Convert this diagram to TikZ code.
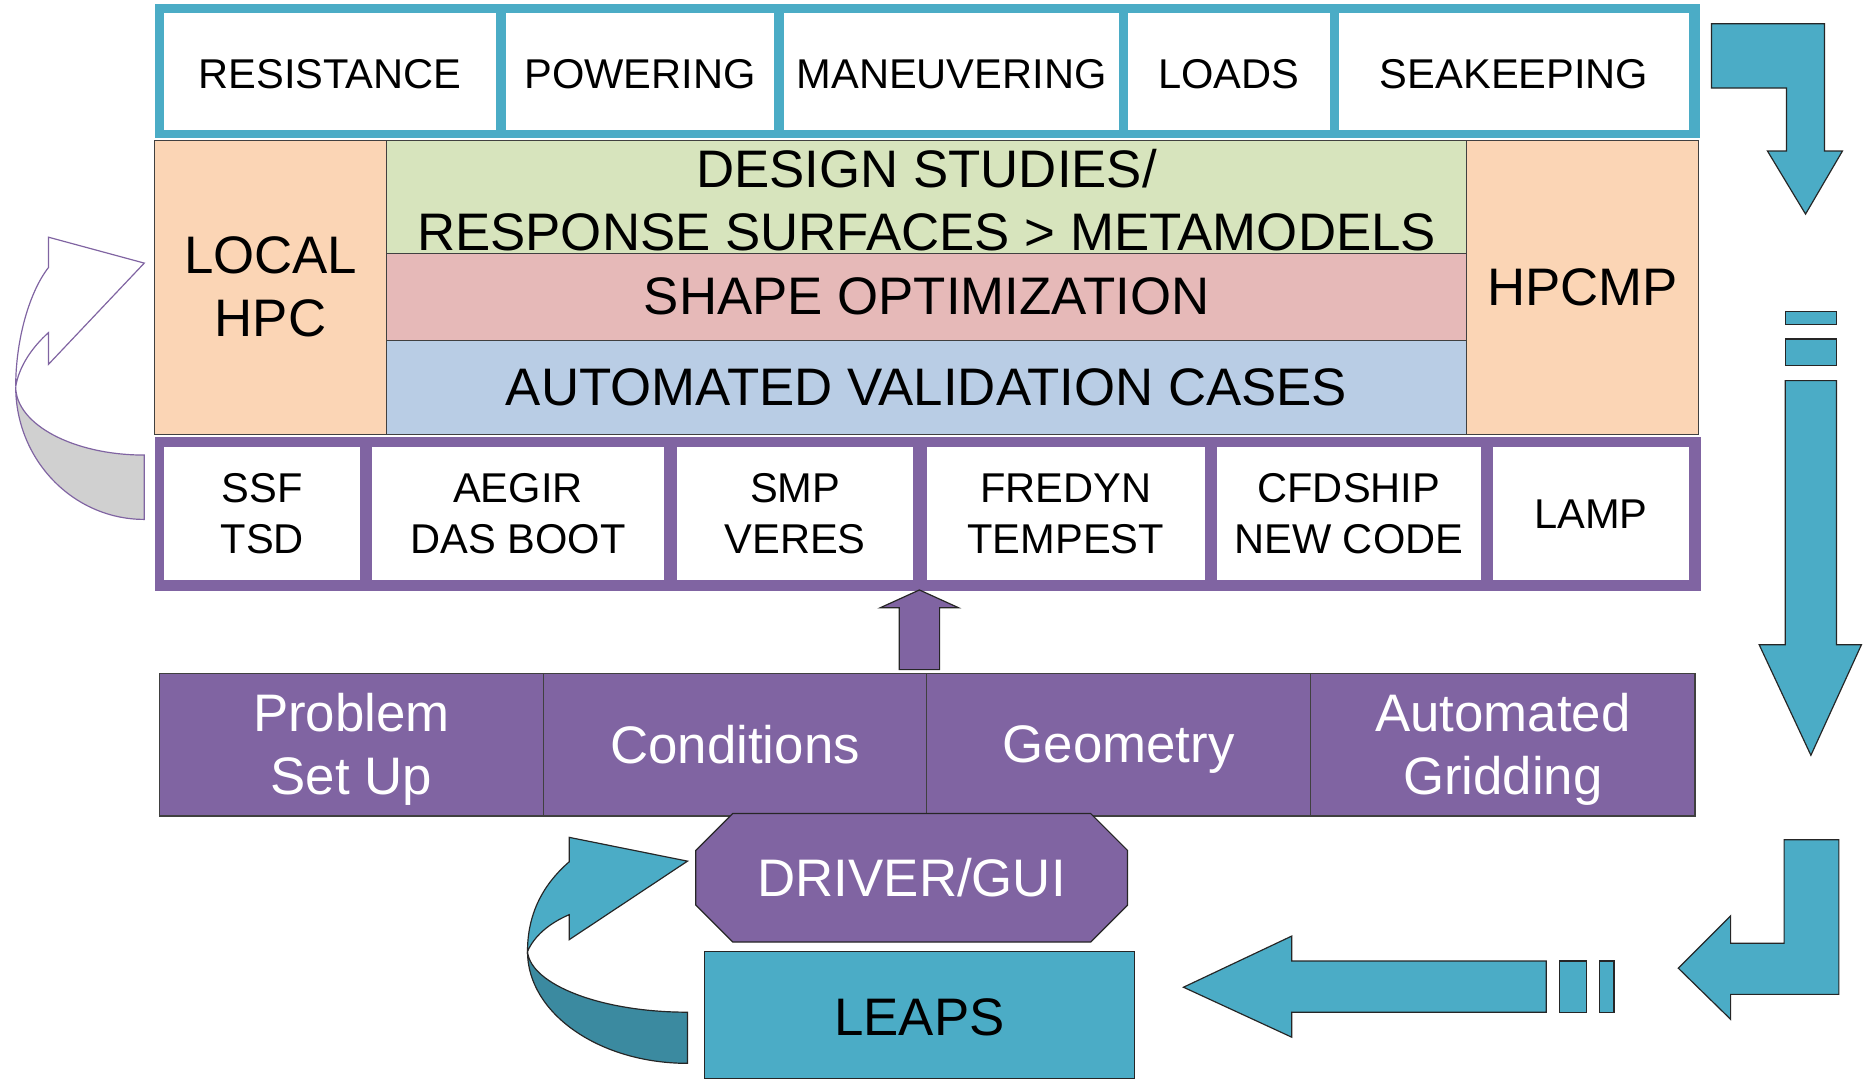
\documentclass[tikz,border=0pt]{standalone}
\usepackage{fontspec}
\setmainfont{Liberation Sans}
\usetikzlibrary{fit}
\definecolor{cteal}{HTML}{4BACC6}
\definecolor{cdteal}{HTML}{3B8AA0}
\definecolor{cpurple}{HTML}{8064A2}
\definecolor{cpeach}{HTML}{FBD5B5}
\definecolor{cgreen}{HTML}{D7E4BD}
\definecolor{cpink}{HTML}{E6B9B8}
\definecolor{cblue}{HTML}{B9CDE5}
\definecolor{cgray}{HTML}{D0D0D0}
\begin{document}
\begin{tikzpicture}[x=0.5pt,y=-0.5pt,
  box/.style={inner sep=0pt, outer sep=0pt},
  txt/.style={inner sep=0pt, outer sep=0pt, align=center},
  fs/.style={font=\fontsize{17.5}{21.5}\selectfont},
  fl/.style={font=\fontsize{22.2}{26.5}\selectfont},
  thinline/.style={draw=black!75, line width=0.5pt},
  blk/.style={draw=black!85, line width=0.5pt, line join=miter}]
\useasboundingbox (0,0) rectangle (1568,915);

% ---------- top band ----------
\node[box, fill=cteal, fit={(130,3)(1429,116)}] (topband) {};
\node[box, fill=white, fit={(138,11)(417,109)}] (res) {};
\node[box, fill=white, fit={(425,11)(651,109)}] (pow) {};
\node[box, fill=white, fit={(659,11)(941,109)}] (man) {};
\node[box, fill=white, fit={(948,11)(1118,109)}] (loa) {};
\node[box, fill=white, fit={(1126,11)(1420,109)}] (sea) {};
\node[txt, fs] (res-t) at ([yshift=-1pt]res.center) {RESISTANCE};
\node[txt, fs] (pow-t) at ([yshift=-1pt]pow.center) {POWERING};
\node[txt, fs] (man-t) at ([yshift=-1pt]man.center) {MANEUVERING};
\node[txt, fs] (loa-t) at ([yshift=-1pt]loa.center) {LOADS};
\node[txt, fs] (sea-t) at ([yshift=-1pt]sea.center) {SEAKEEPING};

% ---------- middle block ----------
\node[box, fill=cpeach, thinline, fit={(130,118)(325,365)}] (local) {};
\node[box, fill=cgreen, thinline, fit={(325,118)(1233,213)}] (design) {};
\node[box, fill=cpink, thinline, fit={(325,213)(1233,286)}] (shape) {};
\node[box, fill=cblue, thinline, fit={(325,286)(1233,365)}] (valid) {};
\node[box, fill=cpeach, thinline, fit={(1233,118)(1428,365)}] (hpcmp) {};
\node[txt, fl] (local-t) at (local) {LOCAL\\HPC};
\node[txt, fl] (design-t) at ([yshift=-1.5pt]design.center) {DESIGN STUDIES/\\RESPONSE SURFACES > METAMODELS};
\node[txt, fl] (shape-t) at (shape) {SHAPE OPTIMIZATION};
\node[txt, fl] (valid-t) at (valid) {AUTOMATED VALIDATION CASES};
\node[txt, fl] (hpcmp-t) at (hpcmp) {HPCMP};

% ---------- purple band ----------
\node[box, fill=cpurple, fit={(130,367)(1430,497)}] (codeband) {};
\node[box, fill=white, fit={(138,376)(303,488)}] (ssf) {};
\node[box, fill=white, fit={(313,376)(558,488)}] (aegir) {};
\node[box, fill=white, fit={(569,376)(768,488)}] (smp) {};
\node[box, fill=white, fit={(779,376)(1013,488)}] (fredyn) {};
\node[box, fill=white, fit={(1023,376)(1245,488)}] (cfd) {};
\node[box, fill=white, fit={(1255,376)(1420,488)}] (lamp) {};
\node[txt, fs] (ssf-t) at (ssf) {SSF\\TSD};
\node[txt, fs] (aegir-t) at (aegir) {AEGIR\\DAS BOOT};
\node[txt, fs] (smp-t) at (smp) {SMP\\VERES};
\node[txt, fs] (fredyn-t) at (fredyn) {FREDYN\\TEMPEST};
\node[txt, fs] (cfd-t) at (cfd) {CFDSHIP\\NEW CODE};
\node[txt, fs] (lamp-t) at (lamp) {LAMP};

% up arrow
\draw[blk, fill=cpurple] (773,496) -- (806,511) -- (790,511) -- (790,563) -- (756,563) -- (756,511) -- (740,511) -- cycle;

% ---------- bottom row ----------
\node[box, fill=cpurple, thinline, fit={(134,566)(457,686)}] (prob) {};
\node[box, fill=cpurple, thinline, fit={(457,566)(779,686)}] (cond) {};
\node[box, fill=cpurple, thinline, fit={(779,566)(1102,686)}] (geom) {};
\node[box, fill=cpurple, thinline, fit={(1102,566)(1425,686)}] (grid) {};
\node[txt, fl, text=white] (prob-t) at ([yshift=-2pt]prob.center) {Problem\\Set Up};
\node[txt, fl, text=white] (cond-t) at (cond) {Conditions};
\node[txt, fl, text=white] (geom-t) at ([yshift=-2pt]geom.center) {Geometry};
\node[txt, fl, text=white] (grid-t) at ([yshift=-2pt]grid.center) {Automated\\Gridding};

% driver octagon
\draw[blk, fill=cpurple] (616,684) -- (917,684) -- (948,715) -- (948,761) -- (917,792) -- (616,792) -- (585,761) -- (585,715) -- cycle;
\node[txt, fl, text=white] (driver) at (766.5,738) {DRIVER/GUI};

% LEAPS
\node[box, fill=cteal, blk, fit={(592,800)(954,907)}] (leaps) {};
\node[txt, fl] (leaps-t) at ([yshift=-1pt]leaps.center) {LEAPS};

% ---------- bottom-left curved arrow ----------
\draw[blk, fill=cteal] (478.6,724.5) -- (478.6,704) -- (578,724) -- (478.6,790) -- (478.6,769)
  .. controls (462,776) and (449,787) .. (443.5,800)
  .. controls (443.5,770) and (455,745) .. cycle;
\draw[blk, fill=cdteal] (443.5,800) .. controls (446,827.7) and (505.1,851) .. (578,851)
  -- (578,894) .. controls (503.8,894) and (443.5,851.9) .. cycle;

% ---------- top-left curved arrow ----------
\draw[draw=cpurple, line width=0.5pt, fill=white] (40.7,225) -- (40.7,199.4) -- (121.3,221.2) -- (40.7,306.4) -- (40.7,279.7)
  .. controls (27,292) and (16,308) .. (13.2,325)
  .. controls (13.2,285) and (25,245) .. cycle;
\draw[draw=cpurple, line width=0.5pt, fill=cgray] (13.2,325) .. controls (13.2,356.8) and (61.6,382.6) .. (121.3,382.6)
  -- (121.3,436.7) .. controls (61.6,436.7) and (13.2,386.7) .. cycle;

% ---------- right-side arrows ----------
\draw[blk, fill=cteal] (1439,20) -- (1534,20) -- (1534,127) -- (1549,127) -- (1518,180) -- (1486,127) -- (1502,127) -- (1502,74) -- (1439,74) -- cycle;

\draw[blk, fill=cteal] (1501,262) rectangle (1544,273);
\draw[blk, fill=cteal] (1501,285) rectangle (1544,307.5);
\draw[blk, fill=cteal] (1501,320) -- (1544,320) -- (1544,542) -- (1565,542) -- (1522.5,635) -- (1479,542) -- (1501,542) -- cycle;

\draw[blk, fill=cteal] (1500,706) -- (1546,706) -- (1546,836) -- (1455,836) -- (1455,857) -- (1411,814) -- (1455,770) -- (1455,793) -- (1500,793) -- cycle;

\draw[blk, fill=cteal] (1300,808) -- (1300,851) -- (1086,851) -- (1086,872) -- (995,830) -- (1086,787) -- (1086,808) -- cycle;
\draw[blk, fill=cteal] (1311,808) rectangle (1334,851);
\draw[blk, fill=cteal] (1345,808) rectangle (1357,851);
\end{tikzpicture}
\end{document}
